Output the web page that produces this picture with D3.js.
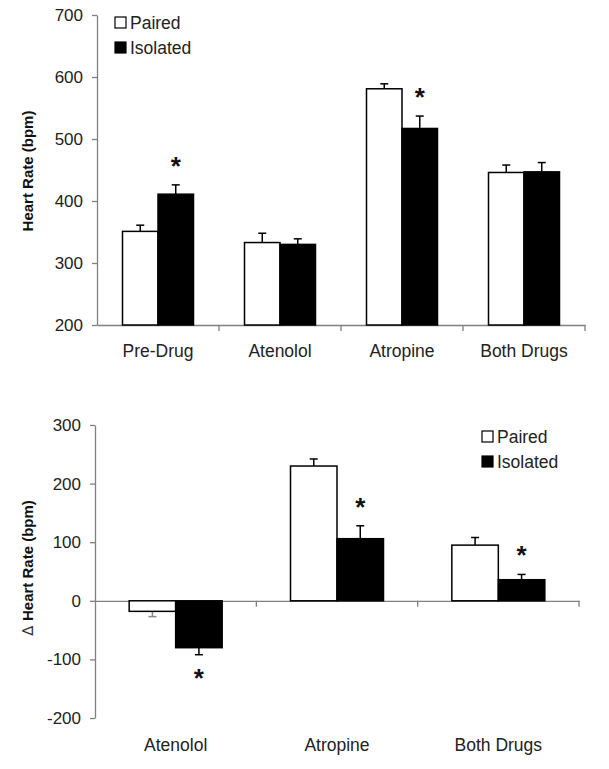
<!DOCTYPE html>
<html><head><meta charset="utf-8">
<script src="https://cdn.jsdelivr.net/npm/d3@7"></script>
<style>body{margin:0;background:#fff}svg{display:block}text{font-family:"Liberation Sans",Arial,sans-serif}</style>
</head><body>
<svg id="c" width="609" height="769"></svg>
<script>
// ---- Data ----
const seriesNames = ["Paired", "Isolated"];
// Top panel
const topCategories = ["Pre-Drug", "Atenolol", "Atropine", "Both Drugs"];
const topPaired = [351, 333, 581, 446];
const topPairedErr = [10, 15, 8, 12];
const topIsolated = [411, 330, 517, 447];
const topIsolatedErr = [15, 9, 20, 15];
const topSig = [true, false, true, false];
const topTicks = [200, 300, 400, 500, 600, 700];
// Bottom panel
const botCategories = ["Atenolol", "Atropine", "Both Drugs"];
const botPaired = [-18, 230, 95];
const botPairedErr = [9, 12, 13];
const botIsolated = [-80, 106, 36];
const botIsolatedErr = [12, 22, 9];
const botSig = [true, true, true];
const botTicks = [-200, -100, 0, 100, 200, 300];

const svg = d3.select("#c");
const axisColor = "#808080";
const textColor = "#222";

function panel(opt) {
  const g = svg.append("g");
  const x = d3.scaleBand().domain(opt.cats).range([opt.x0, opt.x1]).paddingInner(0).paddingOuter(0);
  const y = d3.scaleLinear().domain(opt.domain).range([opt.yBottom, opt.yTop]);
  const sub = d3.scaleBand().domain(seriesNames).range([0, opt.barW * 2]);
  const rows = opt.cats.map((c, i) => ({c, i}));
  const baseV = opt.base;

  // y axis
  const ya = g.append("g").attr("transform", `translate(${opt.x0},0)`)
    .call(d3.axisLeft(y).tickValues(opt.ticks).tickSize(5).tickSizeOuter(0).tickPadding(9)
      .tickFormat(d => String(d)));
  ya.select(".domain").attr("stroke", axisColor).attr("stroke-width", 1.3);
  ya.selectAll(".tick line").attr("stroke", axisColor).attr("stroke-width", 1.3);
  ya.selectAll(".tick text").attr("font-size", 17).attr("fill", textColor)
    .attr("font-family", '"Liberation Sans",Arial,sans-serif');

  // x axis (at base value)
  const xa = g.append("g").attr("transform", `translate(0,${y(baseV)})`)
    .call(d3.axisBottom(x).tickSize(0).tickFormat(""));
  xa.select(".domain").attr("stroke", axisColor).attr("stroke-width", 1.3);
  xa.selectAll(".tick").remove();
  // boundary ticks between categories
  const bounds = opt.cats.map(c => x(c) + x.bandwidth());
  g.selectAll(".bt").data(bounds).join("line")
    .attr("x1", d => d).attr("x2", d => d)
    .attr("y1", y(baseV)).attr("y2", y(baseV) + 6)
    .attr("stroke", axisColor).attr("stroke-width", 1.3);

  // category labels
  g.selectAll(".cl").data(opt.cats).join("text")
    .attr("x", d => x(d) + x.bandwidth() / 2).attr("y", opt.labelY)
    .attr("text-anchor", "middle").attr("font-size", 17.5).attr("fill", textColor).text(d => d);

  const groupX = c => x(c) + x.bandwidth() / 2 - opt.barW;
  const series = [
    {name: "Paired", vals: opt.paired, errs: opt.pairedErr, fill: "#fff"},
    {name: "Isolated", vals: opt.isolated, errs: opt.isolatedErr, fill: "#000"}
  ];
  series.forEach(s => {
    rows.forEach(r => {
      const v = s.vals[r.i], e = s.errs[r.i];
      const cx = groupX(r.c) + sub(s.name) + sub.bandwidth() / 2;
      const tip = v >= baseV ? v + e : v - e;
      const col = (opt.grayNegPaired && s.name === "Paired" && v < baseV) ? "#888" : "#000";
      g.append("line").attr("x1", cx).attr("x2", cx).attr("y1", y(v)).attr("y2", y(tip))
        .attr("stroke", col).attr("stroke-width", 1.5);
      g.append("line").attr("x1", cx - 4).attr("x2", cx + 4).attr("y1", y(tip)).attr("y2", y(tip))
        .attr("stroke", col).attr("stroke-width", 1.5);
    });
    g.selectAll(null).data(rows).join("rect")
      .attr("x", d => groupX(d.c) + sub(s.name))
      .attr("y", d => Math.min(y(s.vals[d.i]), y(baseV)))
      .attr("width", sub.bandwidth())
      .attr("height", d => Math.abs(y(s.vals[d.i]) - y(baseV)))
      .attr("fill", s.fill).attr("stroke", "#000").attr("stroke-width", 1.5);
  });

  // significance asterisks above/below the Isolated bar
  rows.filter(r => opt.sig[r.i]).forEach(r => {
    const v = opt.isolated[r.i], e = opt.isolatedErr[r.i];
    const cx = groupX(r.c) + sub("Isolated") + sub.bandwidth() / 2;
    const yy = v >= baseV ? y(v + e) - 10 : y(v - e) + 32;
    g.append("text").attr("x", cx).attr("y", yy).attr("text-anchor", "middle")
      .attr("font-size", 26).attr("font-weight", "bold").attr("fill", "#111").text("*");
  });

  // y title
  const t = g.append("text").attr("transform", `translate(${opt.titleX},${opt.titleY}) rotate(-90)`)
    .attr("text-anchor", "middle").attr("font-size", 15).attr("fill", "#111");
  if (opt.titlePrefix) {
    t.append("tspan").attr("font-weight", "normal").attr("font-family", '"DejaVu Sans",sans-serif')
      .attr("font-size", 15).attr("fill", "#333").text(opt.titlePrefix + " ");
  }
  t.append("tspan").attr("font-weight", "bold").text(opt.title);

  // legend
  const lg = g.append("g").attr("transform", `translate(${opt.legX},${opt.legY})`);
  seriesNames.forEach((n, i) => {
    lg.append("rect").attr("x", 0).attr("y", i * 25).attr("width", 11).attr("height", 11)
      .attr("fill", i === 0 ? "#fff" : "#000").attr("stroke", "#000").attr("stroke-width", 1.2);
    lg.append("text").attr("x", 15).attr("y", i * 25 + 11.5).attr("font-size", 17.5)
      .attr("fill", textColor).text(n);
  });
}

panel({
  cats: topCategories, paired: topPaired, pairedErr: topPairedErr,
  isolated: topIsolated, isolatedErr: topIsolatedErr, sig: topSig,
  ticks: topTicks, domain: [200, 700], base: 200,
  x0: 97, x1: 585, yTop: 15, yBottom: 325, barW: 35.5, labelY: 357,
  title: "Heart Rate (bpm)", titleX: 33, titleY: 171,
  legX: 115, legY: 17
});

panel({
  cats: botCategories, paired: botPaired, pairedErr: botPairedErr,
  isolated: botIsolated, isolatedErr: botIsolatedErr, sig: botSig,
  ticks: botTicks, domain: [-200, 300], base: 0, grayNegPaired: true,
  x0: 95, x1: 579, yTop: 425, yBottom: 718, barW: 46.5, labelY: 751,
  titlePrefix: "\u2206", title: "Heart Rate (bpm)", titleX: 33, titleY: 568,
  legX: 482, legY: 431
});
</script>
</body></html>
